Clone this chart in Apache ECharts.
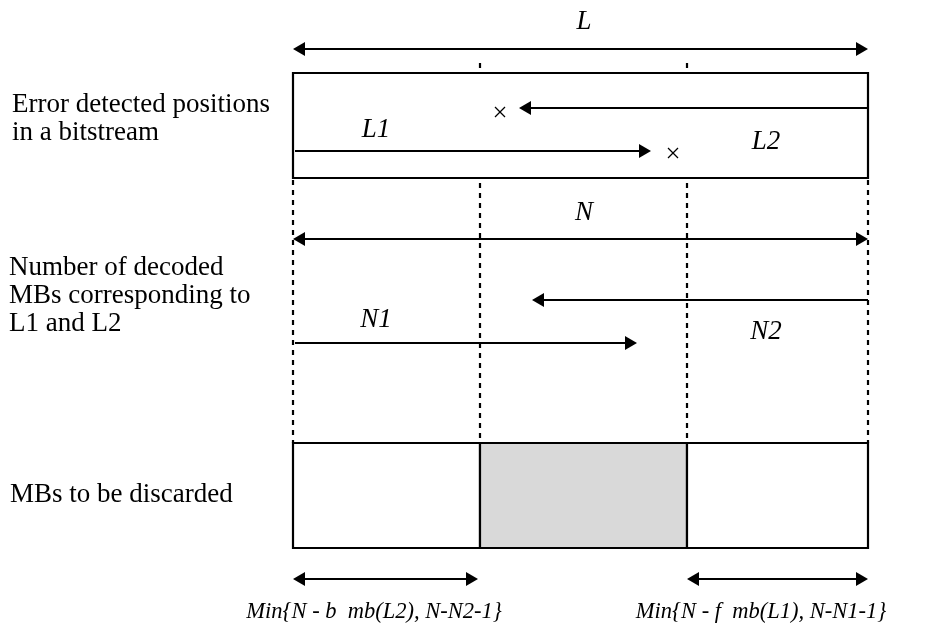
<!DOCTYPE html>
<html>
<head>
<meta charset="utf-8">
<script src="https://cdn.jsdelivr.net/npm/echarts@6/dist/echarts.min.js"></script>
<style>
html,body{margin:0;padding:0;background:#fff;}
#chart{width:933px;height:629px;}
</style>
</head>
<body>
<div id="chart"></div>
<script>
// ---- diagram data (in axis units) ----
const dividerX = [293, 480, 687, 868];
const dividerTop = [180, 63, 63, 180];
const dividerBottom = [443, 443, 443, 443];
const streamBox = [[293, 868, 73, 178]];
const mbBoxes = [[293, 480, 443, 548], [480, 687, 443, 548], [687, 868, 443, 548]];
const mbDiscarded = [0, 1, 0];
const doubleArrows = [[293, 868, 49], [293, 868, 239], [293, 478, 579], [687, 868, 579]];
const singleArrows = [[868, 519, 108], [295, 651, 151], [868, 532, 300], [295, 637, 343]];
const errorMarks = [[500, 112], [673, 153]];
const symbolLabels = ['L', 'L1', 'L2', 'N', 'N1', 'N2'];
const symbolPos = [[584, 22], [376, 130], [766, 142], [584, 213], [376, 320], [766, 332]];
const rowLabels = ['Error detected positions\nin a bitstream', 'Number of decoded\nMBs corresponding to\nL1 and L2', 'MBs to be discarded'];
const rowLabelPos = [[12, 119], [9, 296], [10, 495]];
const rangeLabels = ['Min{N - b  mb(L2), N-N2-1}', 'Min{N - f  mb(L1), N-N1-1}'];
const rangeLabelPos = [[374, 612], [761, 612]];

const SERIF = '"Liberation Serif", "Times New Roman", serif';
const HEAD_L = 12, HEAD_W = 7;

function head(tip, dir) {
  return {
    type: 'polygon',
    shape: { points: [[tip[0], tip[1]], [tip[0] - dir * HEAD_L, tip[1] - HEAD_W], [tip[0] - dir * HEAD_L, tip[1] + HEAD_W]] },
    style: { fill: '#000' }
  };
}

const chart = echarts.init(document.getElementById('chart'));
chart.setOption({
  animation: false,
  grid: { left: 0, right: 0, top: 0, bottom: 0 },
  xAxis: { type: 'value', min: 0, max: 933, show: false },
  yAxis: { type: 'value', min: 0, max: 629, inverse: true, show: false },
  series: [
    { // dotted guides
      type: 'custom', coordinateSystem: 'cartesian2d', silent: true,
      data: dividerX.map((x, i) => [x, dividerTop[i], dividerBottom[i]]),
      renderItem: (p, api) => {
        const a = api.coord([api.value(0), api.value(1)]);
        const b = api.coord([api.value(0), api.value(2)]);
        return { type: 'line', shape: { x1: a[0], y1: a[1], x2: b[0], y2: b[1] },
          style: { stroke: '#000', lineWidth: 2.2, lineDash: [5, 5] } };
      }
    },
    { // boxes
      type: 'custom', coordinateSystem: 'cartesian2d', silent: true,
      data: streamBox.map(b => b.concat([0])).concat(mbBoxes.map((b, i) => b.concat([mbDiscarded[i]]))),
      renderItem: (p, api) => {
        const a = api.coord([api.value(0), api.value(2)]);
        const b = api.coord([api.value(1), api.value(3)]);
        return { type: 'rect', shape: { x: a[0], y: a[1], width: b[0] - a[0], height: b[1] - a[1] },
          style: { fill: api.value(4) ? '#d9d9d9' : '#fff', stroke: '#000', lineWidth: 2.2 } };
      }
    },
    { // double arrows
      type: 'custom', coordinateSystem: 'cartesian2d', silent: true,
      data: doubleArrows,
      renderItem: (p, api) => {
        const a = api.coord([api.value(0), api.value(2)]);
        const b = api.coord([api.value(1), api.value(2)]);
        return { type: 'group', children: [
          { type: 'line', shape: { x1: a[0] + HEAD_L - 1, y1: a[1], x2: b[0] - HEAD_L + 1, y2: b[1] }, style: { stroke: '#000', lineWidth: 2.2 } },
          head(a, -1), head(b, 1)
        ] };
      }
    },
    { // single arrows
      type: 'custom', coordinateSystem: 'cartesian2d', silent: true,
      data: singleArrows,
      renderItem: (p, api) => {
        const a = api.coord([api.value(0), api.value(2)]);
        const b = api.coord([api.value(1), api.value(2)]);
        const dir = b[0] > a[0] ? 1 : -1;
        return { type: 'group', children: [
          { type: 'line', shape: { x1: a[0], y1: a[1], x2: b[0] - dir * (HEAD_L - 1), y2: b[1] }, style: { stroke: '#000', lineWidth: 2.2 } },
          head(b, dir)
        ] };
      }
    },
    { // error marks
      type: 'custom', coordinateSystem: 'cartesian2d', silent: true,
      data: errorMarks,
      renderItem: (p, api) => {
        const c = api.coord([api.value(0), api.value(1)]);
        const s = 5;
        return { type: 'group', children: [
          { type: 'line', shape: { x1: c[0] - s, y1: c[1] - s, x2: c[0] + s, y2: c[1] + s }, style: { stroke: '#000', lineWidth: 1.2 } },
          { type: 'line', shape: { x1: c[0] - s, y1: c[1] + s, x2: c[0] + s, y2: c[1] - s }, style: { stroke: '#000', lineWidth: 1.2 } }
        ] };
      }
    },
    { // italic symbol labels
      type: 'custom', coordinateSystem: 'cartesian2d', silent: true,
      data: symbolPos,
      renderItem: (p, api) => {
        const c = api.coord([api.value(0), api.value(1)]);
        return { type: 'text', x: c[0], y: c[1], style: { text: symbolLabels[p.dataIndex], fill: '#000',
          font: 'italic 27px ' + SERIF, align: 'center', verticalAlign: 'middle' } };
      }
    },
    { // row labels
      type: 'custom', coordinateSystem: 'cartesian2d', silent: true,
      data: rowLabelPos,
      renderItem: (p, api) => {
        const c = api.coord([api.value(0), api.value(1)]);
        return { type: 'text', x: c[0], y: c[1], style: { text: rowLabels[p.dataIndex], fill: '#000',
          font: '27px ' + SERIF, lineHeight: 28, align: 'left', verticalAlign: 'middle' } };
      }
    },
    { // range labels
      type: 'custom', coordinateSystem: 'cartesian2d', silent: true,
      data: rangeLabelPos,
      renderItem: (p, api) => {
        const c = api.coord([api.value(0), api.value(1)]);
        return { type: 'text', x: c[0], y: c[1], style: { text: rangeLabels[p.dataIndex], fill: '#000',
          font: 'italic 22.5px ' + SERIF, align: 'center', verticalAlign: 'middle' } };
      }
    }
  ]
});
</script>
</body>
</html>
